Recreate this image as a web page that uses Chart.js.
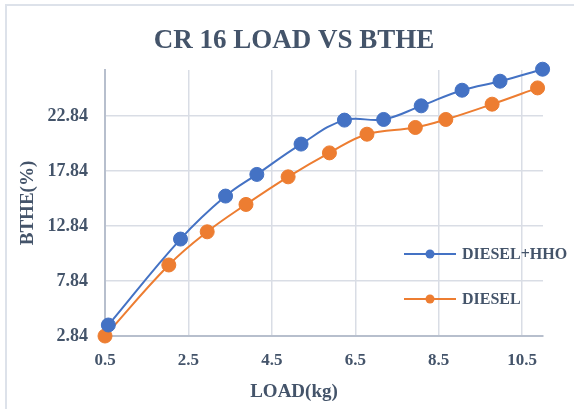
<!DOCTYPE html>
<html>
<head>
<meta charset="utf-8">
<script src="https://cdn.jsdelivr.net/npm/chart.js@4/dist/chart.umd.min.js"></script>
<style>
  html, body { margin: 0; padding: 0; background: #ffffff; }
  #wrap { width: 574px; height: 409px; }
</style>
</head>
<body>
<div id="wrap"><canvas id="c" width="574" height="409"></canvas></div>
<script>
// ---- data ----
const chartTitle = "CR 16 LOAD VS BTHE";
const xAxisTitle = "LOAD(kg)";
const yAxisTitle = "BTHE(%)";
const seriesNames = ["DIESEL+HHO", "DIESEL"];
const hhoLoad = [0.58, 2.31, 3.39, 4.14, 5.2, 6.24, 7.18, 8.08, 9.06, 9.97, 10.99];
const hhoBthe = [3.84, 11.66, 15.57, 17.54, 20.3, 22.48, 22.54, 23.78, 25.2, 26.02, 27.11];
const dieselLoad = [0.5, 2.03, 2.95, 3.88, 4.89, 5.88, 6.78, 7.94, 8.67, 9.78, 10.87];
const dieselBthe = [2.84, 9.3, 12.32, 14.81, 17.32, 19.5, 21.2, 21.81, 22.54, 23.93, 25.41];
const xTicks = [0.5, 2.5, 4.5, 6.5, 8.5, 10.5];
const yTicks = [2.84, 7.84, 12.84, 17.84, 22.84];

const blue = "#4472C4";
const orange = "#ED7D31";
const textColor = "#44546A";
const serif = "'Liberation Serif', 'Times New Roman', serif";

const toPts = (xs, ys) => xs.map((x, i) => ({ x: x, y: ys[i] }));

const decor = {
  id: "decor",
  beforeDraw(chart) {
    const ctx = chart.ctx;
    ctx.save();
    ctx.fillStyle = "#ffffff";
    ctx.fillRect(0, 0, chart.width, chart.height);
    ctx.strokeStyle = "#dde2ea";
    ctx.lineWidth = 2;
    ctx.strokeRect(6, 5, chart.width + 20, chart.height + 20);
    ctx.restore();
  },
  afterDraw(chart) {
    const ctx = chart.ctx;
    ctx.save();
    ctx.fillStyle = textColor;
    ctx.textAlign = "center";
    ctx.textBaseline = "middle";
    ctx.font = "bold 27px " + serif;
    ctx.fillText(chartTitle, 294, 41);
    ctx.font = "bold 19px " + serif;
    ctx.fillText(xAxisTitle, 294, 392);
    ctx.save();
    ctx.translate(28, 203);
    ctx.rotate(-Math.PI / 2);
    ctx.fillText(yAxisTitle, 0, 0);
    ctx.restore();
    // legend
    const items = [
      { name: chart.data.datasets[0].label, color: chart.data.datasets[0].borderColor, y: 254 },
      { name: chart.data.datasets[1].label, color: chart.data.datasets[1].borderColor, y: 299 }
    ];
    ctx.font = "bold 16px " + serif;
    ctx.textAlign = "left";
    items.forEach(it => {
      ctx.strokeStyle = it.color;
      ctx.lineWidth = 2;
      ctx.beginPath();
      ctx.moveTo(404, it.y);
      ctx.lineTo(456, it.y);
      ctx.stroke();
      ctx.fillStyle = it.color;
      ctx.beginPath();
      ctx.arc(430, it.y, 4.5, 0, Math.PI * 2);
      ctx.fill();
      ctx.fillStyle = textColor;
      ctx.fillText(it.name, 462, it.y + 1);
    });
    ctx.restore();
  }
};

new Chart(document.getElementById("c"), {
  type: "line",
  data: {
    datasets: [
      {
        label: seriesNames[0],
        data: toPts(hhoLoad, hhoBthe),
        borderColor: blue,
        backgroundColor: blue,
        pointBackgroundColor: blue,
        pointBorderColor: blue,
        borderWidth: 2,
        pointRadius: 7,
        pointBorderWidth: 1,
        tension: 0.4,
        clip: false
      },
      {
        label: seriesNames[1],
        data: toPts(dieselLoad, dieselBthe),
        borderColor: orange,
        backgroundColor: orange,
        pointBackgroundColor: orange,
        pointBorderColor: orange,
        borderWidth: 2,
        pointRadius: 7,
        pointBorderWidth: 1,
        tension: 0.4,
        clip: false
      }
    ]
  },
  options: {
    responsive: false,
    animation: false,
    devicePixelRatio: 1,
    layout: { padding: { top: 70, right: 31, left: 0, bottom: 0 } },
    plugins: {
      legend: { display: false },
      title: { display: false },
      tooltip: { enabled: false }
    },
    scales: {
      x: {
        type: "linear",
        min: 0.5,
        max: 11.0,
        afterBuildTicks: (s) => { s.ticks = xTicks.map(v => ({ value: v })); },
        afterFit: (s) => { s.height = 73; },
        grid: { color: "#d9dde5", lineWidth: 1.5, drawTicks: false },
        border: { color: "#b7bfcd", width: 2 },
        ticks: {
          color: textColor,
          padding: 14,
          font: { family: serif, size: 17, weight: "bold" },
          callback: (v) => String(v)
        }
      },
      y: {
        type: "linear",
        min: 2.84,
        max: 27.04,
        afterBuildTicks: (s) => { s.ticks = yTicks.map(v => ({ value: v })); },
        afterFit: (s) => { s.width = 105; },
        grid: { color: "#d9dde5", lineWidth: 1.5, drawTicks: false },
        border: { color: "#b7bfcd", width: 2 },
        ticks: {
          color: textColor,
          padding: 17,
          font: { family: serif, size: 18, weight: "bold" },
          callback: (v) => v.toFixed(2)
        }
      }
    }
  },
  plugins: [decor]
});
</script>
</body>
</html>
